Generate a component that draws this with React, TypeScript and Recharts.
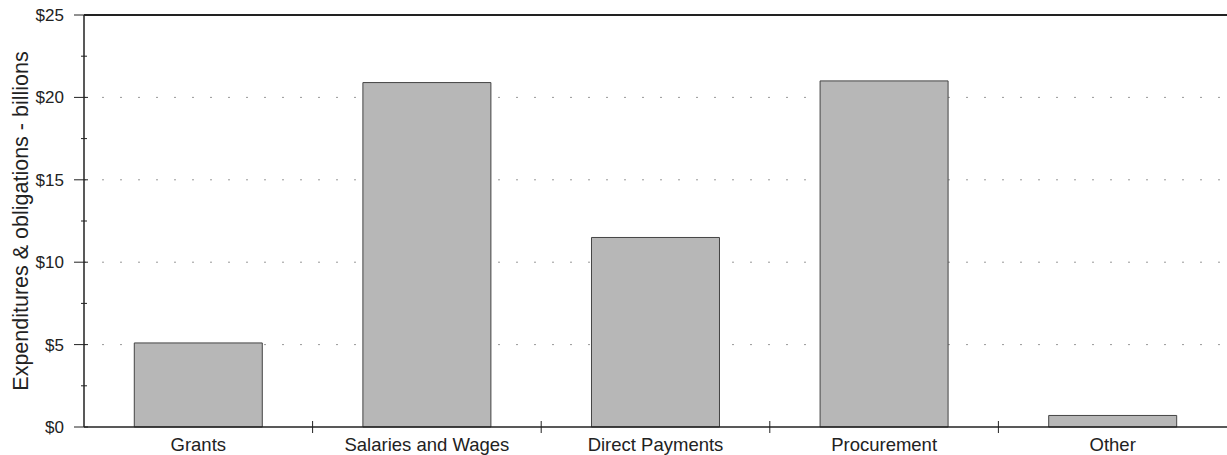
import React from 'react';
import { BarChart, Bar, XAxis, YAxis, CartesianGrid, ReferenceLine } from 'recharts';

const categories = ['Grants', 'Salaries and Wages', 'Direct Payments', 'Procurement', 'Other'];
const amounts = [5.1, 20.9, 11.5, 21.0, 0.7];
const yTicks = [0, 2.5, 5, 7.5, 10, 12.5, 15, 17.5, 20, 22.5, 25];
const gridValues = [5, 10, 15, 20];

const data = categories.map((name, i) => ({ name, amount: amounts[i] }));

const FONT = '"Liberation Sans", Arial, Helvetica, sans-serif';

// y ticks: crossing tick marks, labels only on the $5 steps
function YTick({ x, y, payload }: any) {
  const major = payload.value % 5 === 0;
  return (
    <g>
      <line x1={major ? x - 10 : x - 3} x2={major ? x + 4 : x + 3} y1={y} y2={y} stroke="#222" strokeWidth={1} />
      {major && (
        <text x={x - 20} y={y} dy={6} textAnchor="end" fontSize={17} fill="#222" fontFamily={FONT}>
          ${payload.value}
        </text>
      )}
    </g>
  );
}

// x ticks: label at centre, tick mark on the boundary to the right
function XTick({ x, y, payload, index }: any) {
  const half = payload.offset ?? 0;
  return (
    <g>
      {index < categories.length - 1 && (
        <line x1={x + half} x2={x + half} y1={y - 6} y2={y + 6} stroke="#222" strokeWidth={1} />
      )}
      <text x={x} y={y} dy={24} textAnchor="middle" fontSize={18.5} fill="#222" fontFamily={FONT}>
        {payload.value}
      </text>
    </g>
  );
}

export default function App() {
  return (
    <div style={{ position: 'absolute', left: 0, top: 0, background: '#fff' }}>
      <BarChart
        width={1227}
        height={455}
        data={data}
        margin={{ top: 15, right: 0, left: 0, bottom: 0 }}
        barCategoryGap="22%"
      >
        <CartesianGrid
          horizontal
          vertical={false}
          horizontalValues={gridValues}
          stroke="#999"
          strokeDasharray="2 16"
        />
        <ReferenceLine y={25} stroke="#222" strokeWidth={2} ifOverflow="extendDomain" />
        <XAxis
          dataKey="name"
          height={28}
          tickSize={0}
          tickMargin={0}
          tickLine={false}
          interval={0}
          axisLine={{ stroke: '#222', strokeWidth: 1.5 }}
          tick={<XTick />}
        />
        <YAxis
          width={84}
          domain={[0, 25]}
          ticks={yTicks}
          interval={0}
          tickSize={0}
          tickMargin={0}
          tickLine={false}
          axisLine={{ stroke: '#222', strokeWidth: 1.5 }}
          tick={<YTick />}
          label={{
            value: 'Expenditures & obligations - billions',
            angle: -90,
            position: 'insideLeft',
            offset: 0,
            dx: 20,
            style: { textAnchor: 'middle', fontSize: 21.5, fill: '#222', fontFamily: FONT },
          }}
        />
        <Bar dataKey="amount" fill="#b7b7b7" stroke="#444" strokeWidth={1} isAnimationActive={false} />
      </BarChart>
    </div>
  );
}
